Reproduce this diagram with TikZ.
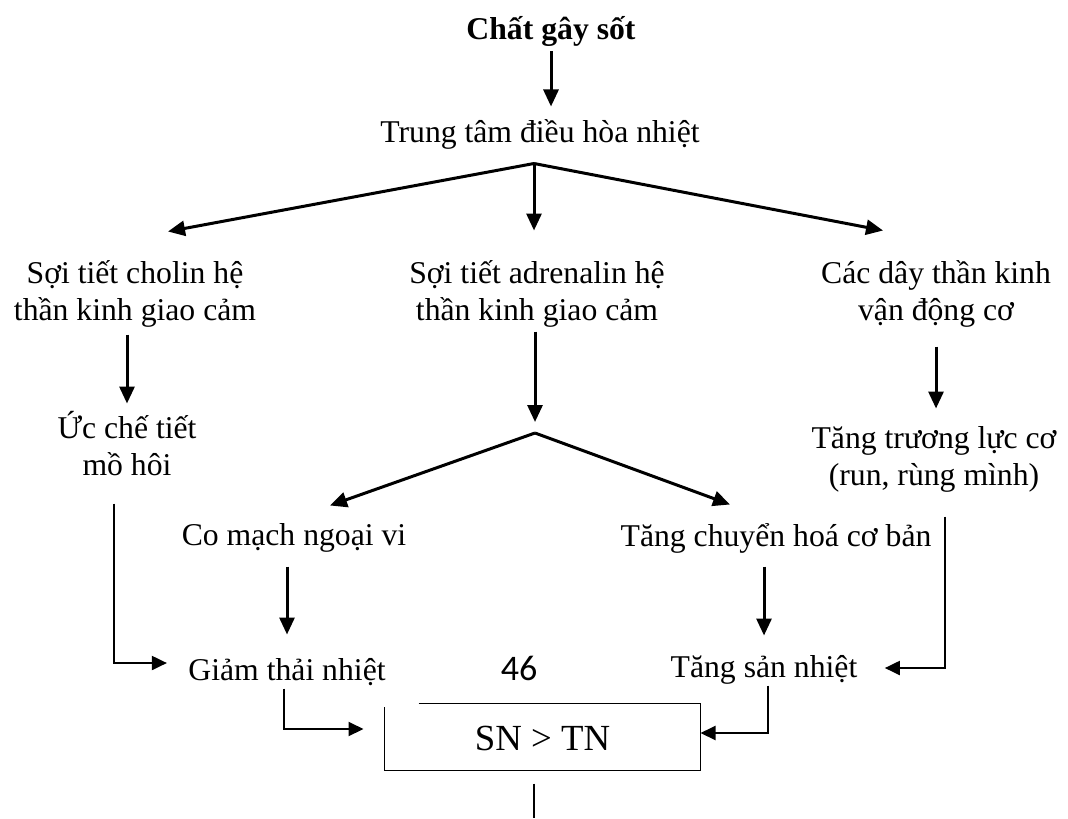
\documentclass[tikz,border=0pt]{standalone}
\usepackage{fontspec}
\setmainfont{Liberation Serif}
\newfontfamily\pagefont{Carlito}
\usetikzlibrary{arrows.meta}

\begin{document}
\begin{tikzpicture}[
        > = {Triangle[length=8.5pt,width=7.5pt]}, % arrow head style
        x = 0.5pt, y = -0.5pt, % one unit = one pixel, y downwards
        line width = 1.5pt % line style
    ]

    \tikzstyle{every node}=[
    font = \fontsize{15.85}{18.5}\selectfont,
    align = center,
    anchor = base,
    inner sep = 0pt,
    text height = 14pt,
    text depth = 3.5pt
    ]
    \tikzstyle{twoline}=[text height = 32.5pt] % base is the last line
    \tikzstyle{elbow}=[->, line width = 1pt, >={Triangle[length=7.5pt,width=7pt]}]
    \tikzstyle{wire}=[line width = 0.75pt]

    \useasboundingbox (0,0) rectangle (1068,818);

    \node[font=\fontsize{15.85}{18.5}\selectfont\bfseries] (chat) at (551,40) {Chất gây sốt};
    \node (trung) at (540,143) {Trung tâm điều hòa nhiệt};

    \node[twoline] (cholin) at (135,320) {Sợi tiết cholin hệ\\thần kinh giao cảm};
    \node[twoline] (adren) at (537,320) {Sợi tiết adrenalin hệ\\thần kinh giao cảm};
    \node[twoline] (vandong) at (936,320) {Các dây thần kinh\\vận động cơ};

    \node[twoline] (mohoi) at (127,475) {Ức chế tiết\\mồ hôi};
    \node[twoline] (truongluc) at (934,485) {Tăng trương lực cơ\\(run, rùng mình)};
    \node (comach) at (294,545) {Co mạch ngoại vi};
    \node (chuyenhoa) at (776,546) {Tăng chuyển hoá cơ bản};

    \node (giam) at (287,680) {Giảm thải nhiệt};
    \node[font=\pagefont\fontsize{18}{21}\selectfont] (trang) at (519,680) {46};
    \node (tang) at (764,677) {Tăng sản nhiệt};
    \node[anchor=center, font=\fontsize{18.4}{21}\selectfont, text height=16.5pt,
        minimum width=156.5pt, minimum height=32pt] (sntn) at (542.5,737) {SN > TN};

    \coordinate (split) at ([shift={(-6,12)}]trung.south);
    \coordinate (fork) at (535,433);
    \coordinate (out) at (534,818);

    % top part
    \draw[->, shorten <=1.5pt, shorten >=3.5pt] (chat.south) -- (chat.south |- trung.north);
    \draw[->] (split) -- ([shift={(33,-22)}]cholin.north);
    \draw[->, shorten >=11.5pt] (split) -- (split |- adren.north);
    \draw[->] (split) -- ([shift={(-53,-23)}]vandong.north);

    % three branches
    \draw[->, shorten <=3pt, shorten >=2.5pt] (cholin.south -| mohoi.north) -- (mohoi.north);
    \draw[->, shorten <=1.5pt, shorten >=5.5pt] (adren.south -| fork) -- (fork);
    \draw[->, shorten <=9pt, shorten >=5pt] (vandong.south) -- (vandong.south |- truongluc.north);
    \draw[->] (fork) -- ([shift={(36,-10)}]comach.north);
    \draw[->] (fork) -- ([shift={(-46,-12)}]chuyenhoa.north);
    \draw[->, shorten <=6.5pt, shorten >=8pt] (comach.south -| giam.north) -- (giam.north);
    \draw[->, shorten <=6pt, shorten >=6pt] (chuyenhoa.south -| tang.north) -- (tang.north);

    % elbows
    \draw[elbow] ([shift={(-13,20)}]mohoi.south) |- ([shift={(-20,-6.5)}]giam.west);
    \draw[elbow] ([shift={(11,23)}]truongluc.south) |- ([shift={(26,1.5)}]tang.east);
    \draw[elbow] ([xshift=-1.5pt]giam.south) |- ([shift={(-21,-8)}]sntn.west);
    \draw[elbow] ([xshift=2pt]tang.south) |- ([shift={(0,-4)}]sntn.east);

    % box, open at the top left corner
    \draw[wire] ([xshift=17pt]sntn.north west) -- (sntn.north east) -- (sntn.south east)
        -- (sntn.south west) -- ([yshift=-1.5pt]sntn.north west);
    \draw[line width=1pt, shorten <=6.5pt] (sntn.south -| out) -- (out);
\end{tikzpicture}
\end{document}
